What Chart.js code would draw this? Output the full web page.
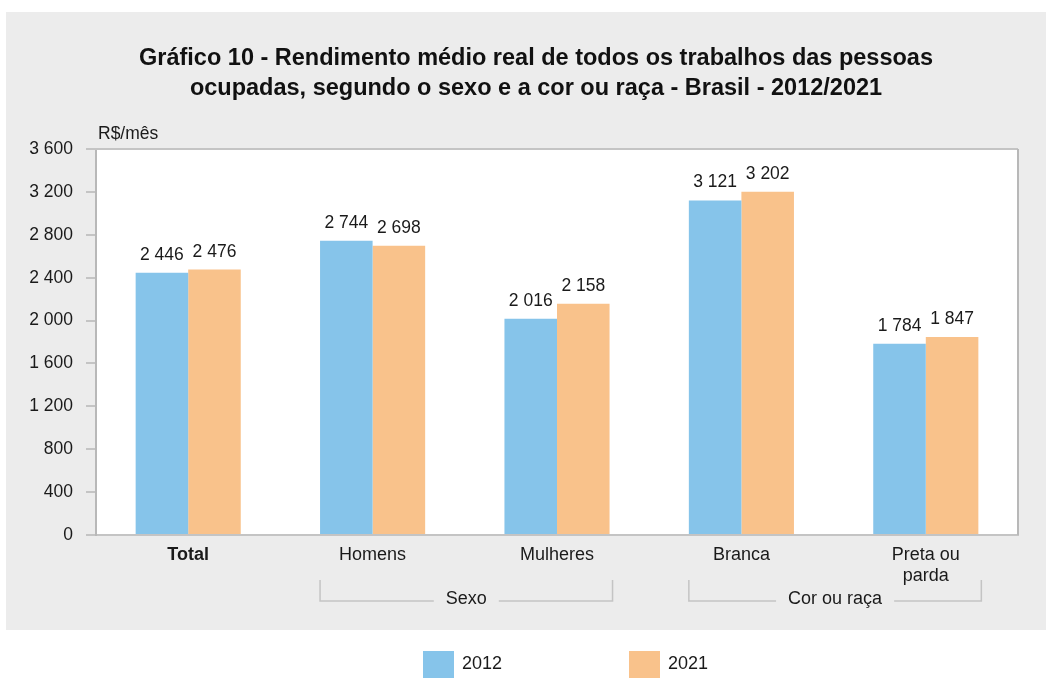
<!DOCTYPE html>
<html lang="pt-BR">
<head>
<meta charset="utf-8">
<title>Gráfico 10</title>
<script src="https://cdn.jsdelivr.net/npm/chart.js@4.4.1/dist/chart.umd.min.js"></script>
<style>
  html, body { margin: 0; padding: 0; background: #fff; }
  #wrap { width: 1051px; height: 678px; }
</style>
</head>
<body>
<div id="wrap"><canvas id="grafico" width="1051" height="678"></canvas></div>
<script>
// dados
const categorias = ['Total', 'Homens', 'Mulheres', 'Branca', ['Preta ou', 'parda']];
const anos = ['2012', '2021'];
const valores2012 = [2446, 2744, 2016, 3121, 1784];
const valores2021 = [2476, 2698, 2158, 3202, 1847];
const ticksY = [0, 400, 800, 1200, 1600, 2000, 2400, 2800, 3200, 3600];
const grupos = [
  { nome: 'Sexo', de: 1, ate: 2 },
  { nome: 'Cor ou raça', de: 3, ate: 4 }
];

const FONTE = '"Liberation Sans", Arial, sans-serif';
const AZUL = '#86c4ea';
const LARANJA = '#f9c28b';
const CINZA = '#c4c4c4';
const TEXTO = '#1a1a1a';

Chart.defaults.font.family = FONTE;
Chart.defaults.color = TEXTO;

const fmt = n => String(n).replace(/\B(?=(\d{3})+(?!\d))/g, ' ');

const extras = {
  id: 'extras',
  beforeDraw(chart) {
    const { ctx, chartArea: a } = chart;
    ctx.save();
    ctx.fillStyle = '#fff';
    ctx.fillRect(0, 0, chart.width, chart.height);
    ctx.fillStyle = '#ececec';
    ctx.fillRect(6, 12, 1040, 618);
    ctx.fillStyle = '#fff';
    ctx.fillRect(a.left, a.top, a.right - a.left, a.bottom - a.top);
    ctx.restore();
  },
  afterDraw(chart) {
    const { ctx, chartArea: a } = chart;
    ctx.save();

    // bordas superior e direita
    ctx.strokeStyle = CINZA;
    ctx.lineWidth = 2;
    ctx.beginPath();
    ctx.moveTo(a.left - 10, a.top);
    ctx.lineTo(a.right, a.top);
    ctx.stroke();
    ctx.strokeStyle = '#b8b8b8';
    ctx.beginPath();
    ctx.moveTo(a.right, a.top);
    ctx.lineTo(a.right, a.bottom);
    ctx.stroke();

    // unidade
    ctx.fillStyle = TEXTO;
    ctx.font = '17.5px ' + FONTE;
    ctx.textAlign = 'left';
    ctx.textBaseline = 'alphabetic';
    ctx.fillText('R$/mês', a.left + 2, a.top - 10);

    // rótulos de dados
    ctx.textAlign = 'center';
    chart.data.datasets.forEach((ds, di) => {
      chart.getDatasetMeta(di).data.forEach((bar, i) => {
        ctx.fillText(fmt(ds.data[i]), bar.x, bar.y - 13);
      });
    });

    // chaves dos grupos
    const m0 = chart.getDatasetMeta(0).data;
    const m1 = chart.getDatasetMeta(1).data;
    ctx.font = '18px ' + FONTE;
    ctx.textBaseline = 'middle';
    grupos.forEach(g => {
      const x0 = m0[g.de].x - m0[g.de].width / 2;
      const x1 = m1[g.ate].x + m1[g.ate].width / 2 + 3;
      const yt = 580, yb = 601;
      const xc = (x0 + x1) / 2;
      const w = ctx.measureText(g.nome).width / 2 + 12;
      ctx.strokeStyle = CINZA;
      ctx.lineWidth = 1.5;
      ctx.beginPath();
      ctx.moveTo(x0, yt); ctx.lineTo(x0, yb); ctx.lineTo(xc - w, yb);
      ctx.moveTo(xc + w, yb); ctx.lineTo(x1, yb); ctx.lineTo(x1, yt);
      ctx.stroke();
      ctx.fillText(g.nome, xc, 599);
    });

    // legenda
    ctx.textAlign = 'left';
    chart.data.datasets.forEach((ds, di) => {
      const x = 423 + di * 206;
      ctx.fillStyle = ds.backgroundColor;
      ctx.fillRect(x, 651, 31, 27);
      ctx.fillStyle = TEXTO;
      ctx.fillText(ds.label, x + 39, 664);
    });

    ctx.restore();
  }
};

new Chart(document.getElementById('grafico'), {
  type: 'bar',
  data: {
    labels: categorias,
    datasets: [
      { label: anos[0], data: valores2012, backgroundColor: AZUL },
      { label: anos[1], data: valores2021, backgroundColor: LARANJA }
    ]
  },
  options: {
    responsive: false,
    animation: false,
    devicePixelRatio: 1,
    categoryPercentage: 0.57,
    barPercentage: 1,
    layout: { padding: { left: 21, right: 0, top: 0, bottom: 0 } },
    plugins: {
      legend: { display: false },
      tooltip: { enabled: false },
      title: {
        display: true,
        text: [
          'Gráfico 10 - Rendimento médio real de todos os trabalhos das pessoas',
          'ocupadas, segundo o sexo e a cor ou raça - Brasil - 2012/2021'
        ],
        color: '#111',
        font: { size: 23.5, weight: 'bold', lineHeight: 1.277 },
        padding: { top: 44, bottom: 45 }
      }
    },
    scales: {
      x: {
        grid: { display: false, drawTicks: false },
        border: { color: CINZA, width: 2 },
        ticks: {
          padding: 9,
          font: c => ({ size: 18, weight: c.index === 0 ? 'bold' : 'normal', lineHeight: 1.2 })
        },
        afterFit: s => { s.height = 143; }
      },
      y: {
        min: 0,
        max: 3600,
        afterBuildTicks: s => { s.ticks = ticksY.map(v => ({ value: v })); },
        grid: { drawOnChartArea: false, tickLength: 10, color: CINZA, lineWidth: 2 },
        border: { color: '#b8b8b8', width: 2 },
        ticks: { padding: 13, font: { size: 17.5 }, callback: v => fmt(v) },
        afterFit: s => { s.width = 75; }
      },
      margem: {
        type: 'linear',
        position: 'right',
        grid: { display: false },
        border: { display: false },
        ticks: { display: false },
        afterFit: s => { s.width = 33; }
      }
    }
  },
  plugins: [extras]
});
</script>
</body>
</html>
